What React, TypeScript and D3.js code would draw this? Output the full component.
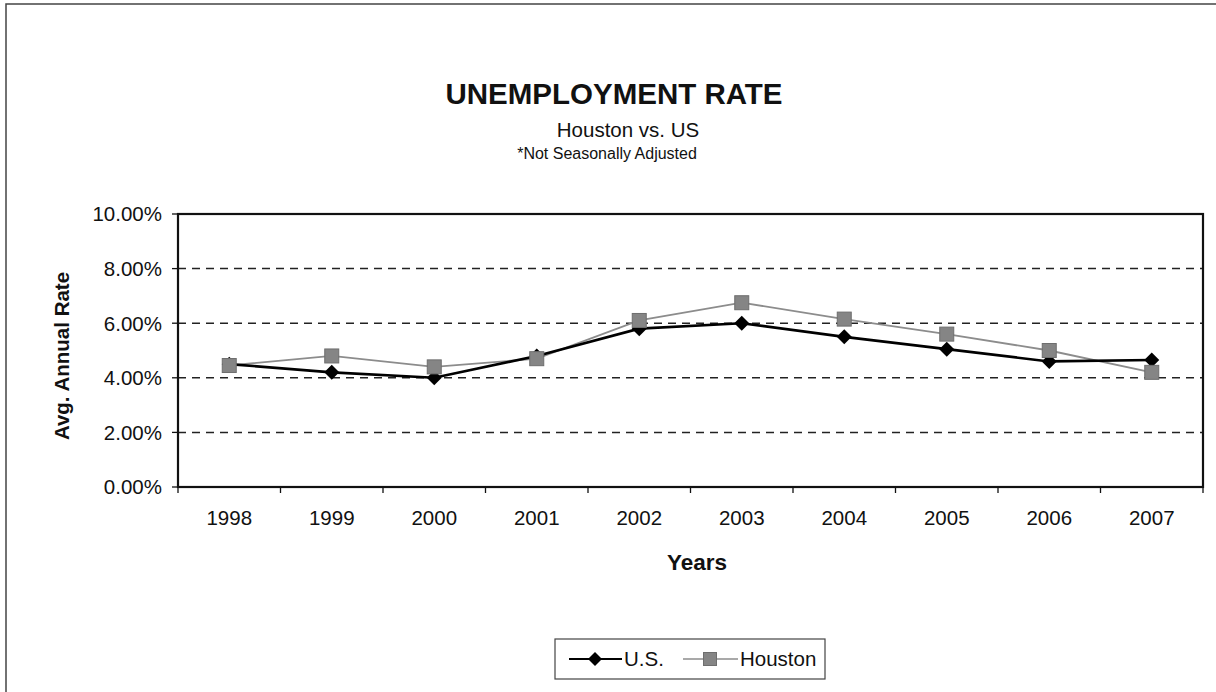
import React from "react";
import * as d3 from "d3";

const years = ["1998", "1999", "2000", "2001", "2002", "2003", "2004", "2005", "2006", "2007"];
const usRate = [4.5, 4.2, 4.0, 4.8, 5.8, 6.0, 5.5, 5.05, 4.6, 4.65];
const houstonRate = [4.45, 4.8, 4.4, 4.7, 6.1, 6.75, 6.15, 5.6, 5.0, 4.2];
const yTicks = [0, 2, 4, 6, 8, 10];

const FONT = "'Liberation Sans', Arial, Helvetica, sans-serif";

export default function App() {
  const W = 1216, H = 692;
  const left = 178, right = 1203, top = 214, bottom = 487;
  const x = d3.scaleBand<string>().domain(years).range([left, right]).padding(0);
  const y = d3.scaleLinear().domain([0, 10]).range([bottom, top]);
  const cx = (yr: string) => (x(yr) as number) + x.bandwidth() / 2;

  const line = d3.line<number>().x((_, i) => cx(years[i])).y((v) => y(v));
  const diamond = (px: number, py: number, s = 7.5) =>
    `M${px},${py - s}L${px + s},${py}L${px},${py + s}L${px - s},${py}Z`;

  const boundaries = d3.range(years.length + 1).map((i) => left + i * x.bandwidth());

  return (
    <svg width={W} height={H} style={{ position: "absolute", left: 0, top: 0, background: "#fff" }} fontFamily={FONT}>
      <rect x={0} y={0} width={W} height={H} fill="#fff" />
      {/* outer frame */}
      <path d={`M6,${H + 5}L6,4L${W + 5},4`} fill="none" stroke="#444" strokeWidth={1.5} />

      {/* titles */}
      <text x={614} y={104} textAnchor="middle" fontSize={29.5} fontWeight="bold" fill="#111">UNEMPLOYMENT RATE</text>
      <text x={628} y={137} textAnchor="middle" fontSize={20.5} fill="#111">Houston vs. US</text>
      <text x={607} y={159} textAnchor="middle" fontSize={16} fill="#111">*Not Seasonally Adjusted</text>

      {/* grid lines */}
      {yTicks.filter((t) => t > 0 && t < 10).map((t) => (
        <line key={t} x1={left} x2={right} y1={y(t)} y2={y(t)} stroke="#222" strokeWidth={1.5} strokeDasharray="8,6" />
      ))}

      {/* plot frame */}
      <rect x={left} y={top} width={right - left} height={bottom - top} fill="none" stroke="#111" strokeWidth={2.2} />

      {/* y ticks */}
      {yTicks.map((t) => (
        <g key={t}>
          <line x1={left - 6} x2={left} y1={y(t)} y2={y(t)} stroke="#111" strokeWidth={1.3} />
          <text x={162} y={y(t)} dy="0.36em" textAnchor="end" fontSize={20.5} fill="#111">{t.toFixed(2)}%</text>
        </g>
      ))}

      {/* x ticks */}
      {boundaries.map((b, i) => (
        <line key={i} x1={b} x2={b} y1={bottom} y2={bottom + 6} stroke="#111" strokeWidth={1.3} />
      ))}
      {years.map((yr) => (
        <text key={yr} x={cx(yr)} y={525} textAnchor="middle" fontSize={20.5} fill="#111">{yr}</text>
      ))}

      {/* axis titles */}
      <text transform="translate(69,356) rotate(-90)" textAnchor="middle" fontSize={20.5} fontWeight="bold" fill="#111">Avg. Annual Rate</text>
      <text x={697} y={570} textAnchor="middle" fontSize={22.5} fontWeight="bold" fill="#111">Years</text>

      {/* Houston series */}
      <path d={line(houstonRate) || ""} fill="none" stroke="#8c8c8c" strokeWidth={1.8} />
      {/* US series */}
      <path d={line(usRate) || ""} fill="none" stroke="#000" strokeWidth={2.6} />
      {usRate.map((v, i) => (
        <path key={"u" + i} d={diamond(cx(years[i]), y(v))} fill="#000" />
      ))}
      {houstonRate.map((v, i) => (
        <rect key={"h" + i} x={cx(years[i]) - 7} y={y(v) - 7} width={14} height={14} fill="#858585" stroke="#6e6e6e" strokeWidth={1} />
      ))}

      {/* legend */}
      <rect x={555} y={639} width={270} height={40} fill="#fff" stroke="#444" strokeWidth={1.2} />
      <line x1={569} x2={622} y1={659} y2={659} stroke="#000" strokeWidth={2.2} />
      <path d={diamond(595, 659, 7)} fill="#000" />
      <text x={624} y={666} fontSize={20.5} fill="#111">U.S.</text>
      <line x1={683} x2={738} y1={659} y2={659} stroke="#8c8c8c" strokeWidth={1.6} />
      <rect x={703.5} y={652.5} width={13} height={13} fill="#858585" stroke="#6e6e6e" strokeWidth={1} />
      <text x={740} y={666} fontSize={20.5} fill="#111">Houston</text>
    </svg>
  );
}
